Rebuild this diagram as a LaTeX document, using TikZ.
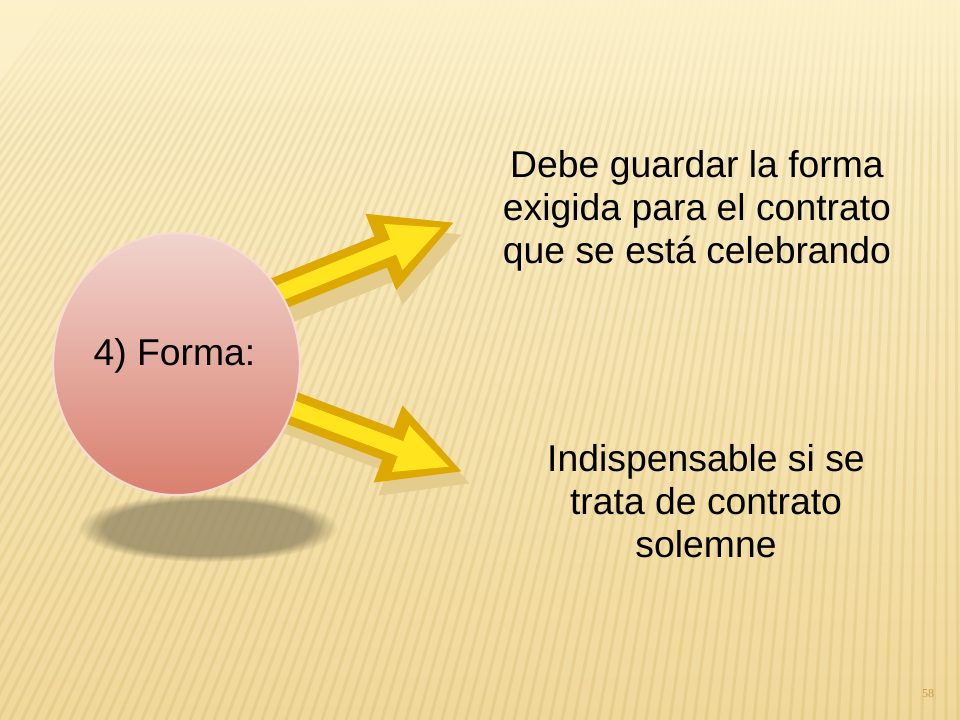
\documentclass[tikz,border=0pt]{standalone}
\usepackage{fontspec}
\setmainfont{Liberation Sans}
\newfontfamily\pagefont{Liberation Serif}
\usetikzlibrary{arrows.meta,shapes.geometric,fadings}
\definecolor{bgtop}{HTML}{FCF1CA}
\definecolor{bgbot}{HTML}{F0D89A}
\definecolor{stripe}{HTML}{B08A30}
\definecolor{pinktop}{HTML}{F1D4CE}
\definecolor{pinkbot}{HTML}{D97F6E}
\definecolor{pinkrim}{HTML}{F7DCD3}
\definecolor{golddark}{HTML}{DDA800}
\definecolor{goldlite}{HTML}{FFE41E}
\definecolor{arrowshadow}{HTML}{E3CC8C}
\definecolor{shadowgray}{HTML}{978A66}
\definecolor{pagegold}{HTML}{C99A45}

\begin{document}
\begin{tikzpicture}[x=0.75pt,y=0.75pt,yscale=-1,xscale=1,
  fatarrow/.style={golddark,line width=25pt,-{Triangle[length=60pt,width=57pt]}},
  fatarrowhi/.style={goldlite,line width=12pt,-{Triangle[length=40pt,width=34pt]},shorten >=10pt},
  arrowshade/.style={arrowshadow,line width=27pt,-{Triangle[length=62pt,width=60pt]}},
  bigtext/.style={font=\fontsize{28}{32.5}\selectfont,align=center,inner sep=0.75pt}]
\useasboundingbox (0,0) rectangle (960,720);
% Background
\shade[top color=bgtop,bottom color=bgbot] (0,0) rectangle (960,720);
\begin{scope}
\clip (0,0) rectangle (960,720);
\foreach \bx in {-470,-458,...,1010}
  \draw[stripe,opacity=0.13,line width=2.4pt] (950,-1200) -- (\bx,720);
\end{scope}
\fill[bgtop,path fading=south] (0,0) rectangle (960,140);
% Shadow of the circle
\fill[shadowgray,fill opacity=0.8,path fading=circle with fuzzy edge 20 percent] (208,528) ellipse [x radius=130,y radius=34];

\coordinate (tailA) at (262,300);
\coordinate (tipA) at (455,222);
\coordinate (tailB) at (265,398);
\coordinate (tipB) at (463,472);
\coordinate (shA) at (270,312);
\coordinate (shtA) at (463,234);
\coordinate (shB) at (273,410);
\coordinate (shtB) at (471,484);

\draw[arrowshade]    (shA) -- (shtA) ;
\draw[arrowshade]    (shB) -- (shtB) ;
\draw[fatarrow]    (tailA) -- (tipA) ;
\draw[fatarrow]    (tailB) -- (tipB) ;
\draw[fatarrowhi]    (tailA) -- (tipA) ;
\draw[fatarrowhi]    (tailB) -- (tipB) ;

% Circle
\draw (176.5,364) node [ellipse,minimum width=185pt,minimum height=196.5pt,top color=pinktop,bottom color=pinkbot,draw=pinkrim,line width=1.5pt,bigtext] (forma) {};
% Text Node
\draw (forma.center) ++(-2,-8) node [bigtext] (formatext) {4) Forma:};
% Text Node
\draw (697,211) node [bigtext] (debe) {Debe guardar la forma\\exigida para el contrato\\que se está celebrando};
% Text Node
\draw (706,501) node [bigtext] (indis) {Indispensable si se\\trata de contrato\\solemne};
% Text Node
\draw (928,694) node [pagegold,font=\pagefont\fontsize{9}{10}\selectfont,inner sep=0.75pt] (pagenum) {58};
\end{tikzpicture}
\end{document}
